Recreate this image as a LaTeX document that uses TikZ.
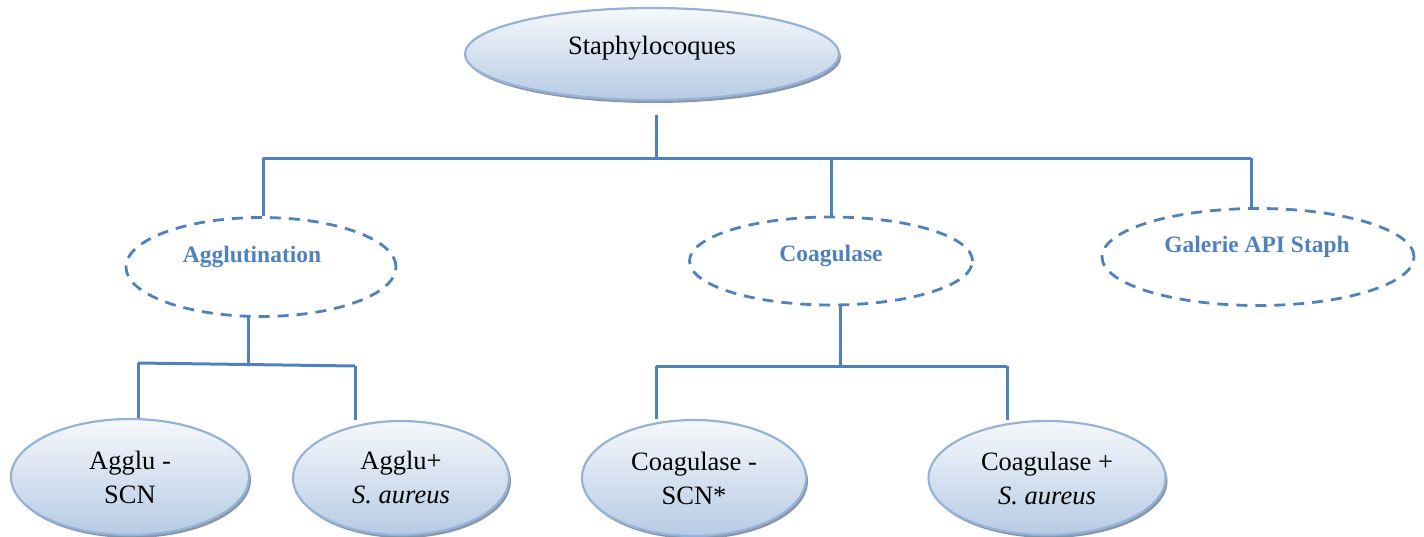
\documentclass[tikz,border=0pt]{standalone}
\usepackage{fontspec}
\setmainfont{Liberation Serif}
\usetikzlibrary{shapes.geometric,shadows,calc}

\definecolor{linkblue}{RGB}{79,129,189}
\definecolor{rimblue}{RGB}{149,179,215}
\definecolor{fillbot}{RGB}{182,203,228}
\definecolor{filltop}{RGB}{246,248,252}
\definecolor{shadowgrey}{RGB}{125,138,160}

\tikzset{
  solidell/.style={ellipse, draw=rimblue, line width=2.2pt, inner sep=0pt,
    top color=filltop, bottom color=fillbot,
    drop shadow={shadow xshift=2pt, shadow yshift=-3pt, fill=shadowgrey, opacity=0.9}},
  dashell/.style={ellipse, draw=linkblue, line width=2.8pt, inner sep=0pt,
    dash pattern=on 11pt off 8pt},
  plaintext/.style={font=\fontsize{26.5}{34}\selectfont, align=center, inner sep=0pt},
  boldtext/.style={font=\fontsize{23.5}{28}\selectfont\bfseries, text=linkblue, inner sep=0pt},
  link/.style={draw=linkblue, line width=3pt}
}

\begin{document}
\begin{tikzpicture}[x=1pt, y=-1pt]
  \useasboundingbox (0,0) rectangle (1424,536);

  % root
  \node[solidell, minimum width=374pt, minimum height=92pt] (root) at (652,54) {};
  \node[plaintext] (rootT) at (652,48) {Staphylocoques};

  % tests
  \node[dashell, minimum width=270pt, minimum height=99pt] (agg) at (261,267) {};
  \node[boldtext] (aggT) at (252,257) {Agglutination};
  \node[dashell, minimum width=283pt, minimum height=88pt] (coa) at (831,261) {};
  \node[boldtext] (coaT) at (831,256) {Coagulase};
  \node[dashell, minimum width=312pt, minimum height=97pt] (gal) at (1258,257) {};
  \node[boldtext] (galT) at (1257,247) {Galerie API Staph};

  % results
  \node[solidell, minimum width=238pt, minimum height=116pt] (aglm) at (130,477) {};
  \node[plaintext] (aglmT) at (130,477) {Agglu -\\SCN};
  \node[solidell, minimum width=216pt, minimum height=114pt] (aglp) at (401,478) {};
  \node[plaintext] (aglpT) at (401,477) {Agglu+\\\textit{S. aureus}};
  \node[solidell, minimum width=224pt, minimum height=116pt] (coam) at (694,478) {};
  \node[plaintext] (coamT) at (694,478) {Coagulase -\\SCN*};
  \node[solidell, minimum width=237pt, minimum height=114pt] (coap) at (1047,478) {};
  \node[plaintext] (coapT) at (1047,478) {Coagulase +\\\textit{S. aureus}};

  % branching points
  \coordinate (rootStem) at (656,115);
  \coordinate (barA) at (656,158);
  \coordinate (barAL) at (263,158);
  \coordinate (barAR) at (1251,158);
  \coordinate (galTop) at (1251,208);
  \coordinate (aggStem) at (248,317);
  \coordinate (barB) at (248,364);
  \coordinate (barBL) at (138,363);
  \coordinate (barBR) at (355,366);
  \coordinate (aglmTop) at (138,418);
  \coordinate (aglpTop) at (355,420);
  \coordinate (coaStem) at (840,305);
  \coordinate (barC) at (840,366);
  \coordinate (barCL) at (656,366);
  \coordinate (barCR) at (1007,366);
  \coordinate (coamTop) at (656,419);
  \coordinate (coapTop) at (1007,420);

  % first level
  \draw[link] (rootStem) -- (barA);
  \draw[link] (barAL) -- (barAR);
  \draw[link] (barAL) -- (barAL |- agg.north);
  \draw[link] (barA -| coa.north) -- (coa.north);
  \draw[link] (barAR) -- (galTop);

  % agglutination branch
  \draw[link] (aggStem) -- (barB);
  \draw[link] (barBL) -- (barBR);
  \draw[link] (barBL) -- (aglmTop);
  \draw[link] (barBR) -- (aglpTop);

  % coagulase branch
  \draw[link] (coaStem) -- (barC);
  \draw[link] (barCL) -- (barCR);
  \draw[link] (barCL) -- (coamTop);
  \draw[link] (barCR) -- (coapTop);
\end{tikzpicture}
\end{document}
